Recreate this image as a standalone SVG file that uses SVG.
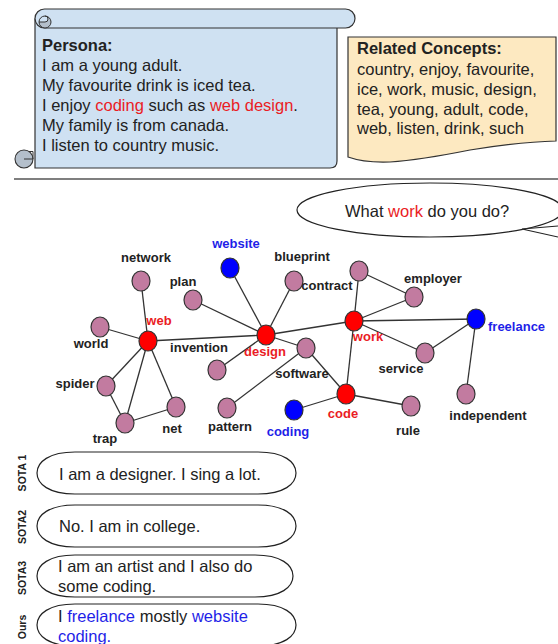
<svg xmlns="http://www.w3.org/2000/svg" width="558" height="644" viewBox="0 0 558 644">
<style>
text{font-family:"Liberation Sans",Arial,sans-serif;fill:#222}
.t{font-size:16.5px}
.b{font-weight:bold}
.lbl{font-size:13px;font-weight:bold;text-anchor:middle;fill:#222}
.red{fill:#ea1c24}
.blue{fill:#1f1fe8}
.n{fill:#c27ba0;stroke:#333;stroke-width:1.2}
.nr{fill:#ff0000;stroke:#333;stroke-width:1.2}
.nb{fill:#0000ff;stroke:#333;stroke-width:1.2}
.e{stroke:#333;stroke-width:1.3;fill:none}
.sota{font-size:10.5px;font-weight:bold;text-anchor:middle}
.bub{fill:#fff;stroke:#222;stroke-width:1.2}
</style>
<rect width="558" height="644" fill="#fff"/>

<g id="persona">
  <path d="M35,19 L35,168 L330,168 Q337,168 337,161 L337,20 Z" fill="#cfe1f2" stroke="#333" stroke-width="1.2"/>
  <rect x="35" y="9" width="320" height="19" rx="9.5" fill="#cfe1f2" stroke="#333" stroke-width="1.2"/>
  <path d="M39,22 A6,6 0 0 0 51,22 A6,6 0 0 0 45,16 L45,16 A3,3 0 0 1 45,22 Z" fill="#b4bfcb" stroke="#333" stroke-width="1"/>
  <path d="M45,16 A6,6 0 0 0 39,22" fill="none" stroke="#333" stroke-width="1"/>
  <circle cx="24" cy="159" r="9" fill="#b4bfcb" stroke="#333" stroke-width="1.1"/>
  <path d="M29,151.5 L33,151.5 L33,159 L24,159" fill="none" stroke="#333" stroke-width="1"/>
  <text class="t b" x="42" y="51">Persona:</text>
  <text class="t" x="42" y="71">I am a young adult.</text>
  <text class="t" x="42" y="91">My favourite drink is iced tea.</text>
  <text class="t" x="42" y="111">I enjoy <tspan class="red">coding</tspan> such as <tspan class="red">web design</tspan>.</text>
  <text class="t" x="42" y="131">My family is from canada.</text>
  <text class="t" x="42" y="151">I listen to country music.</text>
</g>

<g id="related">
  <path d="M348,37 L556,37 L556,141 Q520,142 470,150 Q420,160 390,162 Q365,163 348,157 Z" fill="#fde9c1" stroke="#333" stroke-width="1.2"/>
  <text class="t b" x="357" y="54">Related Concepts:</text>
  <text class="t" x="357" y="75">country, enjoy, favourite,</text>
  <text class="t" x="357" y="95">ice, work, music, design,</text>
  <text class="t" x="357" y="115">tea, young, adult, code,</text>
  <text class="t" x="357" y="134">web, listen, drink, such</text>
</g>

<line x1="14" y1="179" x2="558" y2="179" stroke="#555" stroke-width="1.5"/>

<g id="question">
  <ellipse cx="430" cy="210" rx="133" ry="27" fill="#fff" stroke="#222" stroke-width="1.2"/>
  <path d="M558,226 L522,229 L558,237" fill="#fff" stroke="#222" stroke-width="1.2"/>
  <text class="t" x="345" y="217">What <tspan class="red">work</tspan> do you do?</text>
</g>

<g id="connectors">
  <line class="e" x1="148" y1="341" x2="141" y2="281"/>
  <line class="e" x1="148" y1="341" x2="100" y2="327"/>
  <line class="e" x1="148" y1="341" x2="106" y2="386"/>
  <line class="e" x1="148" y1="341" x2="125" y2="423"/>
  <line class="e" x1="148" y1="341" x2="176" y2="407"/>
  <line class="e" x1="148" y1="341" x2="266" y2="335"/>
  <line class="e" x1="106" y1="386" x2="125" y2="423"/>
  <line class="e" x1="125" y1="423" x2="176" y2="407"/>
  <line class="e" x1="266" y1="335" x2="230" y2="268"/>
  <line class="e" x1="266" y1="335" x2="193" y2="300"/>
  <line class="e" x1="266" y1="335" x2="294" y2="281"/>
  <line class="e" x1="266" y1="335" x2="217" y2="370"/>
  <line class="e" x1="266" y1="335" x2="354" y2="321"/>
  <line class="e" x1="266" y1="335" x2="306" y2="348"/>
  <line class="e" x1="306" y1="348" x2="227" y2="408"/>
  <line class="e" x1="306" y1="348" x2="346" y2="394"/>
  <line class="e" x1="354" y1="321" x2="359" y2="271"/>
  <line class="e" x1="354" y1="321" x2="414" y2="297"/>
  <line class="e" x1="359" y1="271" x2="414" y2="297"/>
  <line class="e" x1="354" y1="321" x2="476" y2="319"/>
  <line class="e" x1="354" y1="321" x2="425" y2="353"/>
  <line class="e" x1="425" y1="353" x2="476" y2="319"/>
  <line class="e" x1="476" y1="319" x2="466" y2="394"/>
  <line class="e" x1="354" y1="321" x2="346" y2="394"/>
  <line class="e" x1="346" y1="394" x2="294" y2="410"/>
  <line class="e" x1="346" y1="394" x2="411" y2="406"/>
</g>

<g id="node-network"><ellipse class="n" cx="141" cy="281" rx="9" ry="10"/><text class="lbl" x="146" y="262">network</text></g>
<g id="node-website"><ellipse class="nb" cx="230" cy="268" rx="9" ry="10"/><text class="lbl blue" x="236" y="248">website</text></g>
<g id="node-plan"><ellipse class="n" cx="193" cy="300" rx="9" ry="10"/><text class="lbl" x="183" y="286">plan</text></g>
<g id="node-world"><ellipse class="n" cx="100" cy="327" rx="9" ry="10"/><text class="lbl" x="91" y="348">world</text></g>
<g id="node-web"><ellipse class="nr" cx="148" cy="341" rx="9" ry="10"/><text class="lbl red" x="159" y="325">web</text></g>
<g id="node-invention"><ellipse class="n" cx="217" cy="370" rx="9" ry="10"/><text class="lbl" x="199" y="352">invention</text></g>
<g id="node-design"><ellipse class="nr" cx="266" cy="335" rx="9" ry="10"/><text class="lbl red" x="265" y="356">design</text></g>
<g id="node-spider"><ellipse class="n" cx="106" cy="386" rx="9" ry="10"/><text class="lbl" x="75" y="388">spider</text></g>
<g id="node-trap"><ellipse class="n" cx="125" cy="423" rx="9" ry="10"/><text class="lbl" x="105" y="443">trap</text></g>
<g id="node-net"><ellipse class="n" cx="176" cy="407" rx="9" ry="10"/><text class="lbl" x="172" y="433">net</text></g>
<g id="node-pattern"><ellipse class="n" cx="227" cy="408" rx="9" ry="10"/><text class="lbl" x="230" y="431">pattern</text></g>
<g id="node-coding"><ellipse class="nb" cx="294" cy="410" rx="9" ry="10"/><text class="lbl blue" x="288" y="436">coding</text></g>
<g id="node-blueprint"><ellipse class="n" cx="294" cy="281" rx="9" ry="10"/><text class="lbl" x="302" y="261">blueprint</text></g>
<g id="node-contract"><ellipse class="n" cx="359" cy="271" rx="9" ry="10"/><text class="lbl" x="327" y="290">contract</text></g>
<g id="node-employer"><ellipse class="n" cx="414" cy="297" rx="9" ry="10"/><text class="lbl" x="433" y="283">employer</text></g>
<g id="node-work"><ellipse class="nr" cx="354" cy="321" rx="9" ry="10"/><text class="lbl red" x="368" y="341">work</text></g>
<g id="node-freelance"><ellipse class="nb" cx="476" cy="319" rx="9" ry="10"/><text class="lbl blue" x="488" y="331" style="text-anchor:start">freelance</text></g>
<g id="node-software"><ellipse class="n" cx="306" cy="348" rx="9" ry="10"/><text class="lbl" x="302" y="378">software</text></g>
<g id="node-service"><ellipse class="n" cx="425" cy="353" rx="9" ry="10"/><text class="lbl" x="401" y="373">service</text></g>
<g id="node-code"><ellipse class="nr" cx="346" cy="394" rx="9" ry="10"/><text class="lbl red" x="343" y="418">code</text></g>
<g id="node-independent"><ellipse class="n" cx="466" cy="394" rx="9" ry="10"/><text class="lbl" x="488" y="420">independent</text></g>
<g id="node-rule"><ellipse class="n" cx="411" cy="406" rx="9" ry="10"/><text class="lbl" x="408" y="435">rule</text></g>

<g id="answers">
  <g id="sota1">
    <text class="sota" transform="translate(26,473) rotate(-90)">SOTA 1</text>
    <path class="bub" d="M75,452 L258,452 C284,452 296,462 296,473 C296,484 284,494 258,494 L75,494 C49,494 37,484 37,473 C37,462 49,452 75,452 Z"/>
    <text class="t" x="59" y="480">I am a designer. I sing a lot.</text>
  </g>
  <g id="sota2">
    <text class="sota" transform="translate(26,527) rotate(-90)">SOTA2</text>
    <path class="bub" d="M75,505 L258,505 C284,505 296,515 296,526 C296,537 284,547 258,547 L75,547 C49,547 37,537 37,526 C37,515 49,505 75,505 Z"/>
    <text class="t" x="59" y="532">No. I am in college.</text>
  </g>
  <g id="sota3">
    <text class="sota" transform="translate(26,578) rotate(-90)">SOTA3</text>
    <path class="bub" d="M75,555 L255,555 C281,555 293,565 293,576 C293,587 281,597 255,597 L75,597 C49,597 37,587 37,576 C37,565 49,555 75,555 Z"/>
    <text class="t" x="58" y="572">I am an artist and I also do</text>
    <text class="t" x="58" y="592">some coding.</text>
  </g>
  <g id="ours">
    <text class="sota" transform="translate(26,627) rotate(-90)">Ours</text>
    <path class="bub" d="M75,604 L258,604 C284,604 296,614 296,625 C296,636 284,646 258,646 L75,646 C49,646 37,636 37,625 C37,614 49,604 75,604 Z"/>
    <text class="t" x="58" y="622">I <tspan class="blue">freelance</tspan> mostly <tspan class="blue">website</tspan></text>
    <text class="t blue" x="58" y="642">coding.</text>
  </g>
</g>
</svg>
